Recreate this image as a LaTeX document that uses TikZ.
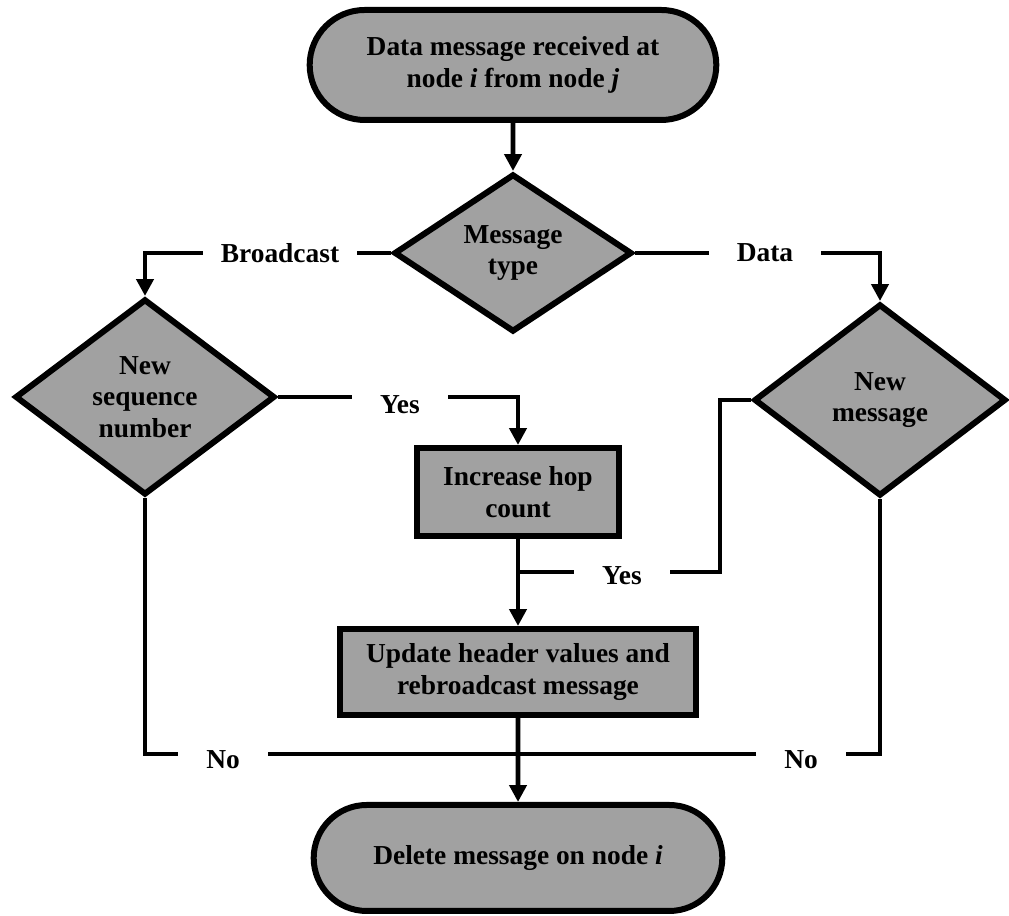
\documentclass[tikz,border=0pt]{standalone}
\usepackage{fontspec}
\setmainfont{Liberation Serif}
\usetikzlibrary{shapes.geometric,shapes.misc,arrows.meta}
\definecolor{boxgray}{gray}{0.63}

\begin{document}
\begin{tikzpicture}[font=\fontsize{19.5}{22.5}\selectfont\bfseries,
	terminal/.style={rounded rectangle,draw=black,line width=1.5mm,fill=boxgray,align=center},
	decision/.style={diamond,draw=black,line width=1.5mm,fill=boxgray,align=center,inner sep=0pt},
	process/.style={rectangle,draw=black,line width=1.5mm,fill=boxgray,align=center},
	txt/.style={inner xsep=0.7cm,inner ysep=0pt},
	flow/.style={line width=1.2mm,-{Triangle[width=12pt,length=12pt]}},
	link/.style={line width=1.2mm}]

			\useasboundingbox (0,0) rectangle (25.225,22.9);

			\node[terminal,minimum width=10.4cm,minimum height=2.75cm] (n1) at (12.825,21.275) {Data message received at\\node \textit{i} from node \textit{j}};
			\node[decision,minimum width=5.95cm,minimum height=3.95cm] (n2) at (12.825,16.575) {Message\\type};
			\node[decision,minimum width=6.5cm,minimum height=4.9cm] (n3) at (3.625,12.975) {New\\sequence\\number};
			\node[decision,minimum width=6.3cm,minimum height=4.8cm] (n4) at (22.0,12.9) {New\\message};
			\node[process,minimum width=5.05cm,minimum height=2.2cm] (n5) at (12.95,10.6) {Increase hop\\count};
			\node[process,minimum width=8.9cm,minimum height=2.15cm] (n6) at (12.95,6.1) {Update header values and\\rebroadcast message};
			\node[terminal,minimum width=10.45cm,minimum height=2.65cm] (n7) at (12.95,1.45) {Delete message on node \textit{i}};

			\node[txt,inner xsep=0.45cm] (l1) at (7.0,16.575) {Broadcast};
			\node[txt] (l2) at (19.125,16.575) {Data};
			\node[txt] (l3) at (10.0,12.775) {Yes};
			\node[txt] (l4) at (15.55,8.5) {Yes};
			\node[txt] (l5) at (5.575,3.9) {No};
			\node[txt] (l6) at (20.03,3.9) {No};

			\coordinate (c1) at (18.0,8.6);
			\coordinate (c2) at (12.95,4.05);

			\draw[flow] (n1) -- (n2);
			\draw[link] (n2.west) -- (l1.east);
			\draw[flow] (l1.west) -| (n3.north);
			\draw[link] (n2.east) -- (l2.west);
			\draw[flow] (l2.east) -| (n4.north);
			\draw[link] (n3.east) -- (n3.east -| l3.west);
			\draw[flow] (l3.east |- n3.east) -| (n5.north);
			\draw[link] (n4.west) -| (c1) -- (c1 -| l4.east);
			\draw[link] (l4.west |- c1) -- (c1 -| n5.south);
			\draw[flow] (n5) -- (n6);
			\draw[link] (n3.south) |- (c2 -| l5.west);
			\draw[link] (l5.east |- c2) -- (c2);
			\draw[link] (n4.south) |- (c2 -| l6.east);
			\draw[link] (l6.west |- c2) -- (c2);
			\draw[flow] (n6) -- (n7);
		\end{tikzpicture}
\end{document}
